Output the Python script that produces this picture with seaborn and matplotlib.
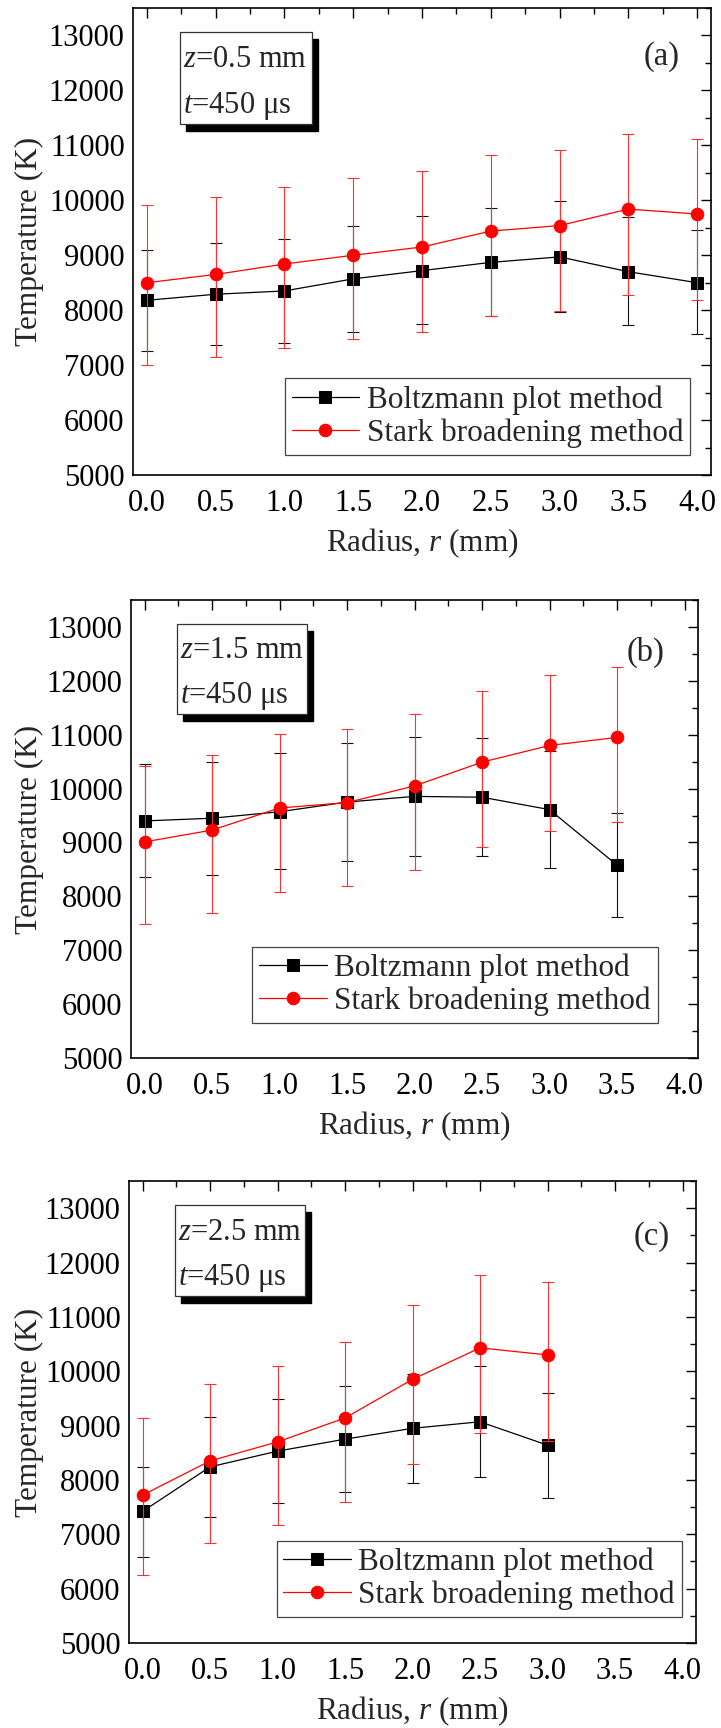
import matplotlib
matplotlib.use("Agg")
import matplotlib.pyplot as plt
import matplotlib.transforms as mtransforms
from matplotlib.patches import Rectangle
from matplotlib.ticker import MultipleLocator
import seaborn as sns
import numpy as np

sns.set_theme(style="white")
plt.rcParams["font.family"] = ["Liberation Serif", "DejaVu Serif"]
plt.rcParams["mathtext.fontset"] = "custom"
plt.rcParams["mathtext.rm"] = "Liberation Serif"
plt.rcParams["mathtext.it"] = "Liberation Serif:italic"

# ---- data: radial temperature profiles at three heights z ----
radius_a = [0.0, 0.5, 1.0, 1.5, 2.0, 2.5, 3.0, 3.5, 4.0]
boltz_a = [8180, 8290, 8350, 8570, 8720, 8870, 8970, 8700, 8500]
boltz_a_lo = [915, 920, 940, 960, 975, 985, 1000, 965, 940]
boltz_a_hi = [920, 935, 940, 965, 990, 995, 1010, 990, 955]
stark_a = [8500, 8650, 8840, 9000, 9150, 9440, 9540, 9840, 9750]
stark_a_lo = [1500, 1510, 1530, 1530, 1540, 1550, 1560, 1560, 1570]
stark_a_hi = [1410, 1410, 1410, 1410, 1380, 1380, 1370, 1360, 1360]

radius_b = [0.0, 0.5, 1.0, 1.5, 2.0, 2.5, 3.0, 3.5]
boltz_b = [9400, 9450, 9570, 9750, 9855, 9840, 9610, 8580]
boltz_b_lo = [1045, 1060, 1060, 1100, 1105, 1090, 1080, 955]
boltz_b_hi = [1050, 1050, 1090, 1090, 1110, 1105, 1080, 965]
stark_b = [9010, 9230, 9640, 9740, 10050, 10490, 10800, 10950]
stark_b_lo = [1530, 1530, 1550, 1555, 1565, 1575, 1585, 1575]
stark_b_hi = [1410, 1395, 1380, 1365, 1335, 1320, 1300, 1300]

radius_c = [0.0, 0.5, 1.0, 1.5, 2.0, 2.5, 3.0]
boltz_c = [7420, 8240, 8530, 8750, 8950, 9070, 8640]
boltz_c_lo = [840, 920, 960, 975, 1005, 1015, 970]
boltz_c_hi = [820, 925, 960, 985, 1000, 1025, 965]
stark_c = [7720, 8350, 8700, 9140, 9850, 10430, 10300]
stark_c_lo = [1475, 1510, 1530, 1540, 1565, 1575, 1575]
stark_c_hi = [1420, 1415, 1395, 1390, 1365, 1340, 1345]

heights = ["0.5", "1.5", "2.5"]
panel_tags = ["(a)", "(b)", "(c)"]
series_names = ["Boltzmann plot method", "Stark broadening method"]

x_ticks = [0.0, 0.5, 1.0, 1.5, 2.0, 2.5, 3.0, 3.5, 4.0]
y_ticks = [5000, 6000, 7000, 8000, 9000, 10000, 11000, 12000, 13000]

panels = [
    (radius_a, boltz_a, boltz_a_lo, boltz_a_hi, stark_a, stark_a_lo, stark_a_hi),
    (radius_b, boltz_b, boltz_b_lo, boltz_b_hi, stark_b, stark_b_lo, stark_b_hi),
    (radius_c, boltz_c, boltz_c_lo, boltz_c_hi, stark_c, stark_c_lo, stark_c_hi),
]

# ---- layout (pixels on a 721 x 1728 canvas) ----
W, H = 721, 1728
frames = [(133, 711, 8, 475), (131, 698, 600, 1058), (129, 696, 1181, 1643)]
legend_anchor = [(0.964, 0.043), (0.929, 0.076), (0.975, 0.056)]
tag_pos = [(0.915, 0.895), (0.908, 0.886), (0.922, 0.879)]

FS = 22

fig = plt.figure(figsize=(W / 100, H / 100), dpi=100)
fig.patch.set_facecolor("white")

for i, (frame, data) in enumerate(zip(frames, panels)):
    l, r, t, b = frame
    ax = fig.add_axes([l / W, 1 - b / H, (r - l) / W, (b - t) / H])
    ax.set_facecolor("white")
    rad, bz, bz_lo, bz_hi, st, st_lo, st_hi = data

    ax.errorbar(rad, bz, yerr=[bz_lo, bz_hi], fmt="none", ecolor="#111111",
                elinewidth=0.8, capsize=4, capthick=0.8, zorder=2)
    sns.lineplot(x=rad, y=bz, ax=ax, color="black", marker="s", markersize=8,
                 markeredgecolor="black", linewidth=0.9, label=series_names[0],
                 zorder=3)
    ax.errorbar(rad, st, yerr=[st_lo, st_hi], fmt="none", ecolor="#ff3030",
                elinewidth=0.8, capsize=4, capthick=0.8, zorder=4)
    sns.lineplot(x=rad, y=st, ax=ax, color="#ff0000", marker="o", markersize=9,
                 markeredgecolor="#ff0000", linewidth=0.9, label=series_names[1],
                 zorder=5)

    ax.set_xlim(-0.1, 4.1)
    ax.set_ylim(5000, 13500)
    ax.set_xticks(x_ticks)
    ax.set_xticklabels([f"{v:.1f}" for v in x_ticks])
    ax.set_yticks(y_ticks)
    ax.set_yticklabels([str(v) for v in y_ticks])
    ax.xaxis.set_minor_locator(MultipleLocator(0.25))
    ax.yaxis.set_minor_locator(MultipleLocator(500))
    ax.tick_params(which="both", direction="in", top=True, right=True,
                   colors="black", labelsize=FS, width=1.0)
    ax.tick_params(which="major", length=7)
    ax.tick_params(which="minor", length=4)
    ax.tick_params(axis="x", which="major", pad=10)
    ax.tick_params(axis="y", which="major", pad=6)
    for s in ax.spines.values():
        s.set_visible(True)
        s.set_color("black")
        s.set_linewidth(1.2)

    ax.set_xlabel("Radius, $\\mathit{r}$ (mm)", fontsize=FS + 0.5)
    ax.set_ylabel("Temperature (K)", fontsize=FS + 0.5)
    ax.xaxis.set_label_coords(0.5, -51 / (b - t))
    ax.yaxis.set_label_coords((44 - l) / (r - l), 0.5)

    leg = ax.legend(loc="lower right", bbox_to_anchor=legend_anchor[i],
                    fontsize=FS + 0.5, frameon=True, fancybox=False, framealpha=1,
                    edgecolor="#444444", handlelength=2.15, handletextpad=0.25,
                    borderpad=0.22, labelspacing=0.12, borderaxespad=0)
    leg.get_frame().set_linewidth(0.9)

    # condition box with drop shadow
    bx0, bx1, by0, by1 = 0.082, 0.310, 0.751, 0.948
    shadow_tr = mtransforms.offset_copy(ax.transAxes, fig=fig, x=6, y=-7, units="dots")
    ax.add_patch(Rectangle((bx0, by0), bx1 - bx0, by1 - by0, transform=shadow_tr,
                           facecolor="black", edgecolor="black", zorder=6))
    ax.add_patch(Rectangle((bx0, by0), bx1 - bx0, by1 - by0, transform=ax.transAxes,
                           facecolor="white", edgecolor="#333333", linewidth=0.9,
                           zorder=7))
    ax.text(bx0 + 0.004, by1 - 0.30 * (by1 - by0), f"$\\mathit{{z}}$=" + heights[i] + " mm",
            transform=ax.transAxes, fontsize=FS, ha="left", va="center", zorder=8)
    ax.text(bx0 + 0.004, by1 - 0.80 * (by1 - by0), "$\\mathit{t}$=450 μs",
            transform=ax.transAxes, fontsize=FS, ha="left", va="center", zorder=8)

    ax.text(tag_pos[i][0], tag_pos[i][1], panel_tags[i], transform=ax.transAxes,
            fontsize=FS + 1.5, ha="center", va="center", zorder=8)

fig.savefig("out.png", dpi=100, facecolor="white")
